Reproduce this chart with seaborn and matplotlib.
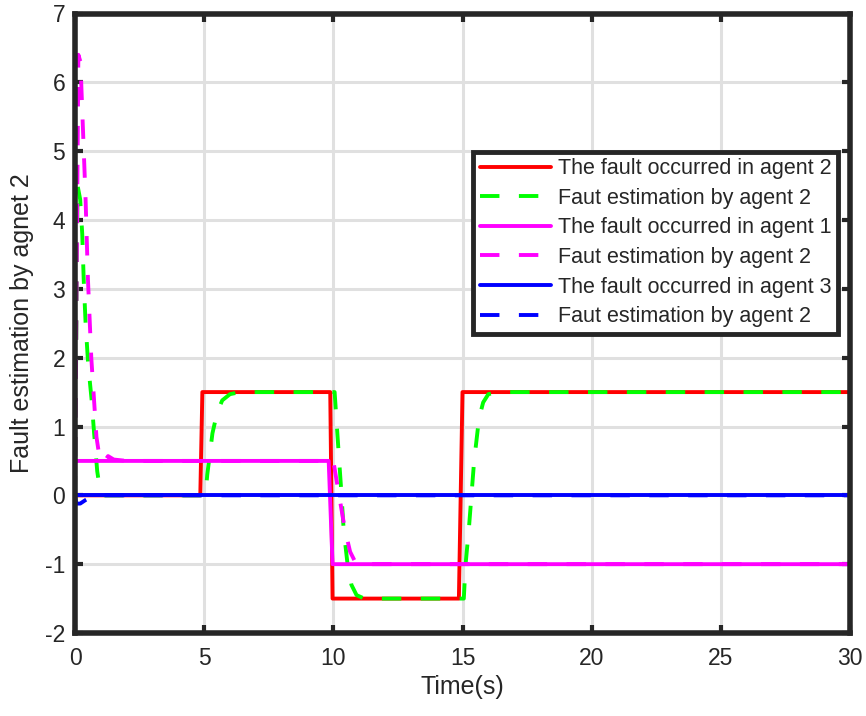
import numpy as np
import pandas as pd
from matplotlib import pyplot as plt
import seaborn as sns

# values
t_fault2 = [0, 4.85, 4.93, 9.88, 9.97, 14.86, 15.0, 30]
y_fault2 = [0, 0, 1.5, 1.5, -1.5, -1.5, 1.5, 1.5]

t_est2 = [0, 0.1, 0.2, 0.28, 0.34, 0.41, 0.51, 0.64, 0.74, 0.86, 0.98, 1.1,
          5.05, 5.12, 5.32, 5.5, 5.7, 6.0, 6.4,
          10.05, 10.12, 10.2, 10.3, 10.4, 10.55, 10.7, 10.9, 11.2,
          15.05, 15.12, 15.25, 15.45, 15.64, 15.8, 16.0, 16.4, 30]
y_est2 = [0, 4.5, 4.3, 3.8, 3.1, 2.5, 1.9, 1.4, 0.9, 0.35, 0.05, 0,
          0, 0.3, 0.9, 1.2, 1.38, 1.47, 1.5,
          1.5, 1.1, 0.65, 0.1, -0.5, -1.0, -1.3, -1.45, -1.5,
          -1.5, -1.0, -0.47, 0.5, 1.12, 1.35, 1.47, 1.5, 1.5]

t_fault1 = [0, 9.82, 9.97, 30]
y_fault1 = [0.5, 0.5, -1.0, -1.0]

t_est1 = [0, 0.13, 0.21, 0.3, 0.41, 0.5, 0.63, 0.83, 0.97, 1.15, 1.28, 1.5, 2.0,
          10.0, 10.2, 10.45, 10.65, 10.85, 11.1, 30]
y_est1 = [0, 6.4, 6.3, 5.4, 4.3, 3.15, 2.0, 0.85, 0.5, 0.5, 0.57, 0.52, 0.5,
          0.5, 0.05, -0.5, -0.82, -0.97, -1.0, -1.0]

t_fault3 = [0, 30]
y_fault3 = [0, 0]

t_est3 = [0, 0.05, 0.2, 0.4, 0.6, 0.9, 30]
y_est3 = [0, -0.12, -0.12, -0.07, -0.03, 0, 0]

series = [
    ("The fault occurred in agent 2", t_fault2, y_fault2, "#ff0000", "-"),
    ("Faut estimation by agent 2", t_est2, y_est2, "#00ff00", "--"),
    ("The fault occurred in agent 1", t_fault1, y_fault1, "#ff00ff", "-"),
    ("Faut estimation by agent 2", t_est1, y_est1, "#ff00ff", "--"),
    ("The fault occurred in agent 3", t_fault3, y_fault3, "#0000ff", "-"),
    ("Faut estimation by agent 2", t_est3, y_est3, "#0000ff", "--"),
]

sns.set_theme(style="whitegrid")
plt.rcParams["font.family"] = ["Liberation Sans", "DejaVu Sans"]
plt.rcParams["axes.unicode_minus"] = False
ink = "#262626"

fig = plt.figure(figsize=(8.66, 7.16), dpi=100)
ax = fig.add_axes([75 / 866, 1 - 633 / 716, 775 / 866, 619.5 / 716])

handles = []
for label, t, y, color, ls in series:
    df = pd.DataFrame({"t": t, "y": y})
    style = (0, (5, 5)) if ls == "--" else "-"
    sns.lineplot(data=df, x="t", y="y", ax=ax, color=color, linestyle=style,
                 linewidth=2.8, estimator=None, sort=False)
    handles.append(ax.lines[-1])

ax.set_xlim(0, 30)
ax.set_ylim(-2, 7)
ax.set_xticks(np.arange(0, 31, 5))
ax.set_yticks(np.arange(-2, 8, 1))
ax.grid(True, color="#e0e0e0", linewidth=2.2)
ax.set_axisbelow(True)
for s in ax.spines.values():
    s.set_visible(True)
    s.set_color(ink)
    s.set_linewidth(4)
ax.tick_params(direction="in", length=6, width=3, color=ink, labelcolor=ink,
               labelsize=16.5, top=True, right=True, bottom=True, left=True)
ax.tick_params(axis="x", pad=10)
ax.tick_params(axis="y", pad=7)
ax.set_xlabel("Time(s)", fontsize=18, color=ink, labelpad=4)
ax.set_ylabel("Fault estimation by agnet 2", fontsize=18, color=ink, labelpad=8)

leg = ax.legend(handles, [s[0] for s in series], loc="upper right",
                bbox_to_anchor=(0.985, 0.777), fontsize=15.5,
                frameon=True, fancybox=False, framealpha=1, edgecolor=ink,
                handlelength=3.3, handletextpad=0.35, borderpad=0.3,
                labelspacing=0.4, borderaxespad=0)
leg.get_frame().set_linewidth(3.5)
for text in leg.get_texts():
    text.set_color(ink)

fig.savefig("out.png", dpi=100, facecolor="white")
